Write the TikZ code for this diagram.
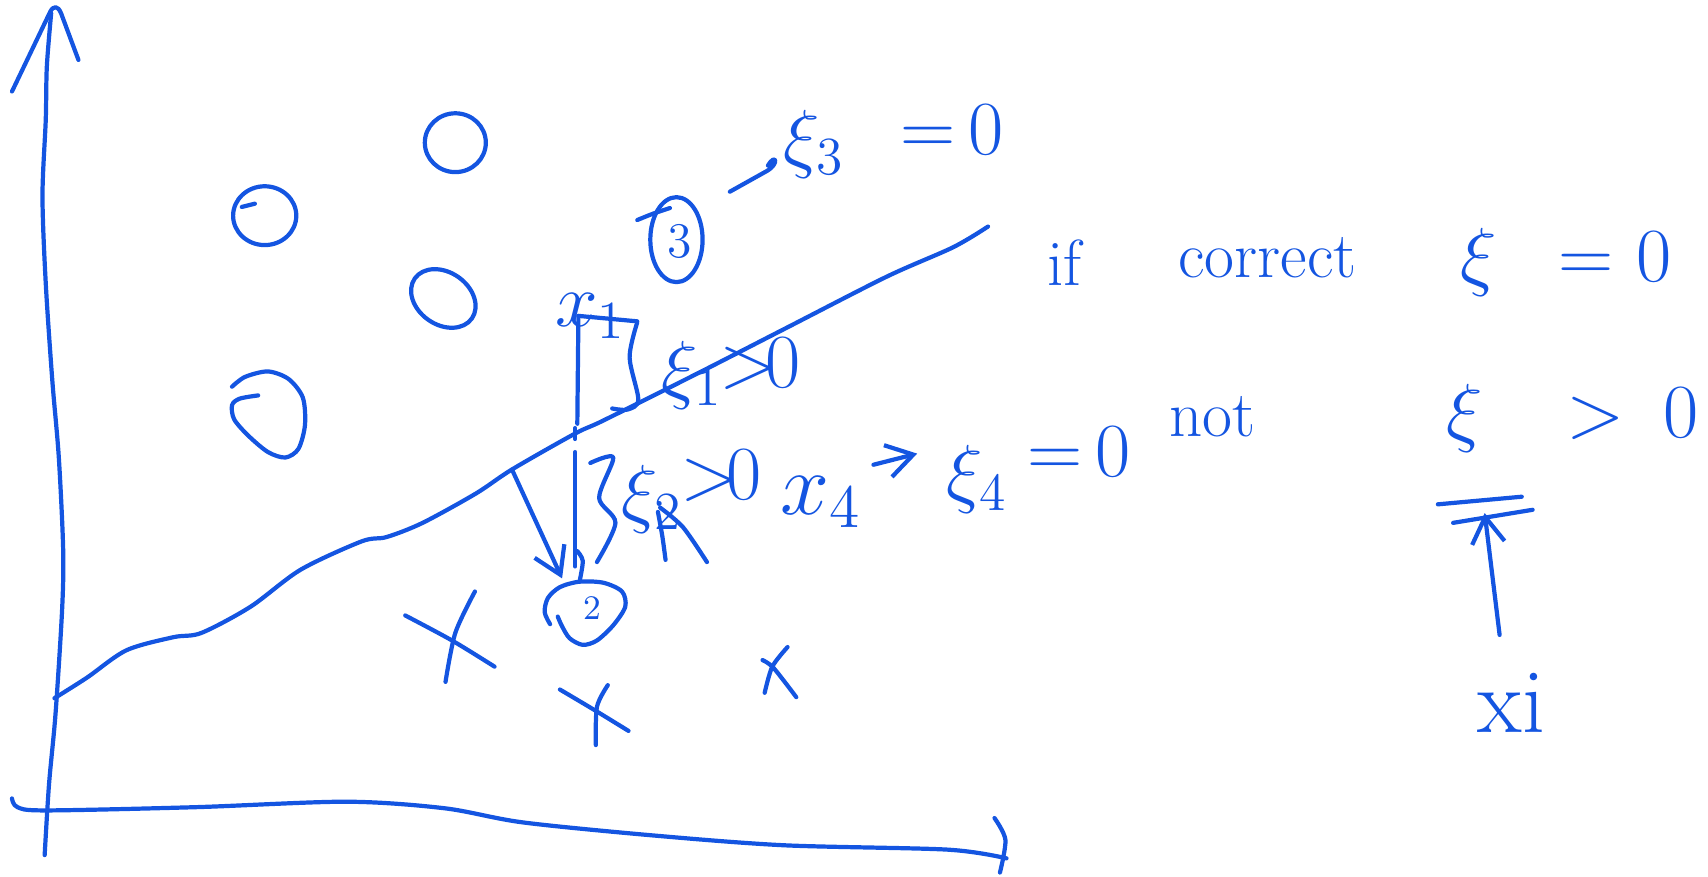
\RequirePackage{fix-cm}
\documentclass[tikz,border=0pt]{standalone}
\usepackage{amsmath}
\usetikzlibrary{arrows.meta,positioning}
\definecolor{inkblue}{RGB}{20,85,225}

\tikzset{
  pen/.style={draw=inkblue,line width=1.1pt,line cap=round,line join=round},
  handtext/.style={text=inkblue,inner sep=0pt,anchor=base west,font=\fontsize{17}{20}\selectfont},
  handmath/.style={text=inkblue,inner sep=0pt,anchor=base west,font=\fontsize{20}{24}\selectfont},
  handx/.style={text=inkblue,inner sep=0pt,anchor=base west,font=\fontsize{23}{27}\selectfont},
  barb/.style={-{Straight Barb[length=2.4mm,width=3mm]}},
}

\begin{document}
\begin{tikzpicture}[x=0.1mm,y=-0.1mm]
    \useasboundingbox (0,0) rectangle (1568,805);

    % Axes
    \draw[pen] plot[smooth] coordinates {(41,785) (45,720) (51,655) (57,560) (58,505) (54,420) (48,349) (42,260) (39,180) (42,110) (43,61) (47,12)};
    \draw[pen] (11,84) -- (46,11) .. controls (49,5) and (53,5) .. (56,12) -- (72,55);
    \draw[pen] plot[smooth] coordinates {(11,733) (16,741) (42,744) (180,741) (318,736) (408,742) (480,755) (600,767) (720,776) (870,780) (924,788)};
    \draw[pen] plot[smooth] coordinates {(913,751) (923,771) (918,801)};

    % Boundary
    \draw[pen] plot[smooth] coordinates {(50,641) (80,622) (116,597) (159,585) (185,581) (230,557) (276,523) (332,497) (355,493) (388,480) (437,453) (470,431) (528,398) (554,386) (640,343) (722,301) (814,254) (875,227) (907,208)};

    % Circles
    \draw[pen] (418,131) ellipse [x radius=28, y radius=27];
    \draw[pen] (243,198) ellipse [x radius=29, y radius=27];
    \draw[pen] (222,190) -- (234,187);
    \draw[pen,rotate around={-35:(407,274)}] (407,274) ellipse [x radius=32, y radius=24];
    \draw[pen] plot[smooth] coordinates {(213,355) (225,346) (246,341) (265,348) (278,365) (280,390) (274,412) (262,420) (246,415) (228,400) (215,385) (213,372) (220,366) (237,363)};

    % Circled 3
    \draw[pen] (621,220) ellipse [x radius=24, y radius=39];
    \draw[pen] plot[smooth] coordinates {(585,202) (600,196) (615,191)};
    \node[text=inkblue,font=\fontsize{13}{15}\selectfont] (three) at (624,222) {3};

    % Circled 2
    \draw[pen] plot[smooth] coordinates {(505,573) (500,562) (503,549) (514,539) (532,534) (554,535) (571,543) (574,557) (563,574) (548,588) (535,592) (523,586) (516,575) (512,566)};
    \node[text=inkblue,font=\fontsize{9}{11}\selectfont] (two) at (544,558) {2};

    % Crosses
    \foreach \ax/\ay/\mx/\my/\bx/\by in {372/565/415/588/454/612, 436/543/418/581/409/626,
        514/633/546/652/577/671, 558/629/548/649/547/684,
        700/606/710/613/731/640, 723/594/709/612/702/636} {
      \draw[pen] plot[smooth] coordinates {(\ax,\ay) (\mx,\my) (\bx,\by)};
    }

    % Slack of x1
    \node[handmath] (x1) at (509,300) {$x_1$};
    \coordinate (x1top) at (531,290);
    \coordinate (x1foot) at (530,389);
    \draw[pen] (x1top) -- (x1foot);
    \draw[pen] (x1top) -- (585,295);
    \draw[pen] plot[smooth] coordinates {(585,296) (578,328) (586,367) (576,376) (562,375)};
    \draw[pen] (528,393) -- (528,403);
    \node[handmath] (xi1) at (607,362) {$\xi_1$};
    \node[handmath] (xi1gt) at (660,356) {${>}\!0$};

    % Slack of the circled 2
    \coordinate (b2) at (528,415);
    \coordinate (b2foot) at (528,520);
    \draw[pen] (b2) -- (b2foot);
    \draw[pen] plot[smooth] coordinates {(530,506) (535,515) (532,534)};
    \draw[pen] plot[smooth] coordinates {(542,425) (563,420) (550,457) (565,480) (548,516)};
    \coordinate (arrtop) at (470,431);
    \coordinate (arrend) at (516,531);
    \draw[pen,barb] (arrtop) -- (arrend);
    \node[handmath] (xi2) at (570,476) {$\xi_2$};
    \node[handmath] (xi2gt) at (624,459) {${>}\!0$};
    \draw[pen] plot[smooth] coordinates {(604,470) (608,492) (611,514)};
    \draw[pen] plot[smooth] coordinates {(606,466) (627,484) (649,516)};

    % x4
    \node[handx] (x4) at (716,472) {$x_4$};
    \node[handmath] (xi4) at (868,458) {$\xi_4$};
    \node[handmath] (xi4eq) at (943,437) {${=}\,0$};
    \draw[pen,barb] ([xshift=1mm,yshift=3.4mm]x4.east) -- ([xshift=-2.6mm,yshift=2.4mm]xi4.west);

    % xi3
    \draw[pen] (670,176) -- (704,157) .. controls (716,150) and (712,140) .. (705,152);
    \node[handmath] (xi3) at (719,150) {$\xi_3$};
    \node[handmath] (xi3eq) at (826,142) {${=}\,0$};

    % Right column
    \node[handtext] (ifword) at (961,262) {if};
    \node[handtext] (correct) at (1081,255) {correct};
    \node[handmath] (xizero) at (1340,258) {$\xi\hspace{0.8em}{=}\hspace{0.3em}0$};
    \node[handtext] (notword) at (1073,401) {not};
    \node[handmath] (xipos) at (1327,402) {$\xi\hspace{1.1em}{>}\hspace{0.5em}0$};

    % xi pointer
    \draw[pen] (1320,463) -- (1397,456);
    \draw[pen] (1334,480) -- (1407,468);
    \coordinate (bartip) at (1363,471);
    \node[handtext,font=\fontsize{24}{28}\selectfont] (xiname) at (1356,672) {xi};
    \draw[pen,barb] ([xshift=-1.1mm,yshift=3.4mm]xiname.north) -- (bartip);
\end{tikzpicture}
\end{document}
